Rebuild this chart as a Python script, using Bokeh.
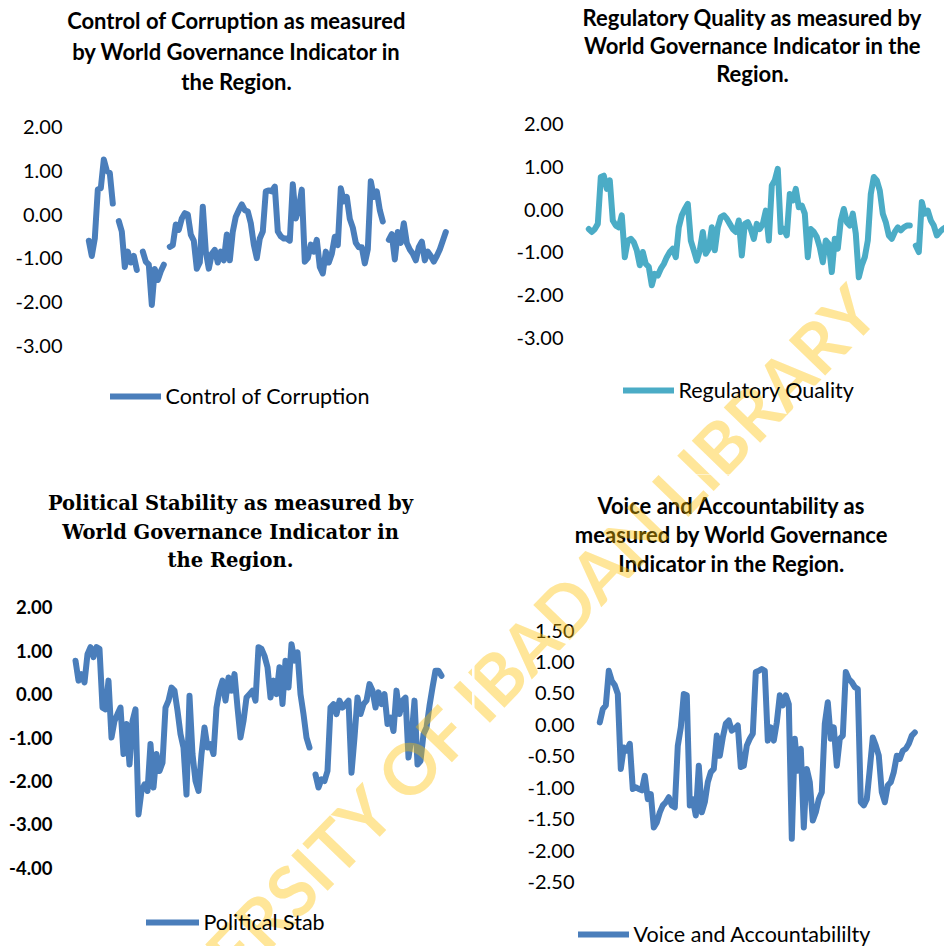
import numpy as np
from bokeh.plotting import figure
from bokeh.models import (Range1d, FixedTicker, NumeralTickFormatter, Label,
                          Legend, LegendItem, ColumnDataSource)
from bokeh.layouts import column, row
from bokeh.embed import file_html
from bokeh.resources import INLINE

nan = float("nan")

# ---------------- data ----------------
control_of_corruption = [
    -0.60, -0.95, -0.55, 0.57, 0.60, 1.26, 1.00, 0.95, 0.25, nan,
    -0.15, -0.39, -1.20, -0.85, -1.10, -0.95, -1.27, nan, -0.85, -1.08,
    -1.15, -2.07, -1.25, -1.50, -1.30, -1.15, nan, -0.74, -0.70, -0.23,
    -0.35, -0.09, 0.03, 0.00, -0.46, -0.60, -1.24, -1.10, 0.18, -0.85,
    -1.24, -0.90, -0.81, -1.10, -0.85, -1.05, -0.46, -1.05, -0.39, -0.05,
    0.10, 0.23, 0.10, 0.07, -0.20, -0.69, -1.00, -0.55, -0.39, 0.53,
    0.55,
    0.53, 0.64, -0.39, -0.50, -0.55, -0.55, -0.60, 0.69, -0.09, 0.14,
    0.57, -1.08, -1.00, -0.69, -0.85, -0.58, -1.20, -1.35, -0.85, -1.10,
    -0.90, -0.51, -0.70, 0.60, 0.30, 0.40, -0.10, -0.30, -0.65, -0.75,
    -0.75, -1.12, -0.80, 0.76, 0.40, 0.53, 0.10, -0.16, nan, -0.58,
    -0.45, -1.03, -0.40, -0.65, -0.20, -0.65, -0.80, -0.90, -1.05, -0.75,
    -0.62, -1.05, -0.85, -0.95, -1.08, -0.95, -0.80, -0.60, -0.40,
]

regulatory_quality = [
    -0.45, -0.52, -0.45, -0.33, 0.77, 0.80, 0.49, 0.69, -0.25, -0.37,
    -0.41, -0.13, -1.11, -0.72, -0.68, -0.76, -0.95, -1.30, -0.99, -1.27,
    -1.34, -1.77, -1.50, -1.54, -1.38, -1.27, -1.11, -0.99, -0.91, -1.11,
    -0.41, -0.13, 0.02, 0.14, -0.72, -0.95, -1.19, -0.95, -0.52, -1.03,
    -0.91, -0.41, -0.95, -0.41, -0.17, -0.13, -0.21, -0.33, -0.45, -0.52,
    -0.25, -1.07, -0.33, -0.29, -0.45, -0.68, -0.33, -0.45, -0.33, -0.02,
    -0.72, 0.57, 0.69, 0.96, -0.52, -0.45, -0.60, 0.37, 0.22, 0.49,
    0.06, 0.10, -0.09, -1.11, -0.45, -0.52, -0.64, -0.88, -1.23, -0.72,
    -0.80, -1.46, -0.68, -0.91, -0.25, 0.02, -0.29, -0.37, -0.09, -0.56,
    -1.58, -1.30, -1.11, -0.72, 0.37, 0.77, 0.69, 0.45, -0.09, -0.29,
    -0.60, -0.68, -0.52, -0.41, -0.48, -0.41, -0.37, -0.37, nan, -0.84,
    -0.99, 0.18, -0.09, -0.02, -0.25, -0.37, -0.60, -0.52, -0.45, -0.41,
]

political_stability = [
    0.77, 0.31, 0.46, 0.27, 0.92, 1.08, 0.85, 1.08, 1.04, -0.31,
    -0.35, 0.31, -1.00, -0.62, -0.46, -0.31, -1.38, -0.69, -1.62, -0.62,
    -0.35, -2.77, -2.23, -2.08, -2.23, -1.15, -2.15, -1.38, -1.77, -1.58,
    -0.31, -0.15, 0.15, 0.08, -0.38, -0.92, -1.23, -2.31, -0.04, -1.38,
    -2.00, -2.23, -1.38, -0.77, -1.23, -1.15, -1.38, -0.31, 0.08, 0.31,
    -0.15, 0.38, 0.08, 0.46, -0.31, -1.00, -0.62, -0.08, 0.00, 0.08,
    -0.15, 1.08, 1.04, 0.88, 0.62, -0.08, 0.31, 0.00, 0.62, -0.23,
    0.77, 0.15, 1.15, 0.77, 0.96, 0.00, -0.46, -1.00, -1.23, nan,
    -1.85, -2.15, -1.96, -2.00, -1.77, -0.31, -0.23, -0.46, -0.15, -0.31,
    -0.23, -0.15, -1.81, -1.00, -0.08, -0.46, -0.23, -0.15, 0.23, 0.08,
    -0.31, 0.04, -0.23, 0.00, -0.69, -0.54, -0.85, 0.08, -0.46, -0.15,
    -0.08, -1.46, -1.00, -0.15, -1.62, -1.54, -0.92, -0.77, -0.27, 0.15,
    0.54, 0.54, 0.42,
]

voice_and_accountability = [
    0.04, 0.25, 0.31, 0.86, 0.70, 0.63, 0.49, -0.70, -0.36, -0.41,
    -0.30, -1.02, -0.99, -1.02, -1.04, -0.81, -1.18, -1.10, -1.63, -1.55,
    -1.39, -1.28, -1.23, -1.15, -1.28, -1.31, -0.33, -0.04, 0.49, 0.47,
    -1.28, -1.18, -1.44, -0.65, -1.39, -1.23, -0.91, -0.75, -0.70, -0.17,
    -0.49, -0.20, 0.02, 0.07, -0.09, -0.06, -0.01, -0.67, -0.65, -0.33,
    -0.22, -0.14, 0.84, 0.86, 0.89, 0.86, -0.25, -0.04, -0.25, 0.04,
    0.47, 0.31, 0.47, 0.33, -1.81, -0.22, -0.73, -0.38, -1.63, -0.70,
    -0.91, -1.52, -1.39, -1.18, -1.07, 0.02, 0.36, -0.22, -0.04, -0.65,
    -0.22, -0.17, 0.84, 0.73, 0.68, 0.60, 0.57, -1.23, -1.28, -1.18,
    -0.70, -0.20, -0.33, -0.49, -1.07, -1.23, -0.96, -0.91, -0.75, -0.49,
    -0.54, -0.41, -0.38, -0.30, -0.17, -0.12,
]

ticks_cc = [2.0, 1.0, 0.0, -1.0, -2.0, -3.0]
ticks_rq = [2.0, 1.0, 0.0, -1.0, -2.0, -3.0]
ticks_ps = [2.0, 1.0, 0.0, -1.0, -2.0, -3.0, -4.0]
ticks_va = [1.5, 1.0, 0.5, 0.0, -0.5, -1.0, -1.5, -2.0, -2.5]

titles_cc = ["Control of Corruption as measured",
             "by World Governance Indicator in", "the Region."]
titles_rq = ["Regulatory Quality as measured by",
             "World Governance Indicator in the", "Region."]
titles_ps = ["Political Stability as measured by",
             "World Governance Indicator in", "the Region."]
titles_va = ["Voice and Accountability as",
             "measured by World Governance", "Indicator in the Region."]

WATERMARK = "UNIVERSITY OF IBADAN LIBRARY"

BLUE = "#4A7EBB"
AQUA = "#4BACC6"


def make_panel(series, name, color, ticks, canvas, label_right,
               line_x, zero_y, ppu, titles, title_y, title_x, title_font,
               title_size, tick_bold, legend_xy, glyph_w):
    cx0, cy0, cx1, cy1 = canvas
    frame_left = cx0 + 2          # frame spans (almost) the whole canvas
    n = len(series)
    step = (line_x[1] - line_x[0]) / (n - 1)
    xr = Range1d((frame_left - line_x[0]) / step, (cx1 - line_x[0]) / step)
    yr = Range1d((zero_y - cy1) / ppu, (zero_y - cy0) / ppu)
    p = figure(frame_width=cx1 - frame_left, frame_height=cy1 - cy0,
               x_range=xr, y_range=yr, x_axis_location=None, y_axis_location="left",
               output_backend="svg", toolbar_location=None,
               min_border_left=frame_left - cx0, min_border_right=0,
               min_border_top=0, min_border_bottom=0, outline_line_color=None,
               background_fill_color="white", border_fill_color="white")
    # pixel-space helper range for titles / watermark
    p.extra_x_ranges = {"px": Range1d(frame_left, cx1)}
    p.extra_y_ranges = {"px": Range1d(cy1, cy0)}
    p.grid.visible = False

    ax = p.yaxis[0]
    ax.ticker = FixedTicker(ticks=ticks)
    ax.formatter = NumeralTickFormatter(format="0.00")
    ax.axis_line_color = None
    ax.major_tick_line_color = None
    ax.minor_tick_line_color = None
    ax.major_tick_out = 0
    ax.major_tick_in = 0
    # labels drawn inside the frame so that the frame can fill the canvas
    ax.major_label_standoff = int(round(frame_left - label_right))
    ax.major_label_text_font = "Lato"
    ax.major_label_text_font_size = "18.5px" if tick_bold else "20px"
    ax.major_label_text_font_style = "bold" if tick_bold else "normal"
    ax.major_label_text_color = "black"

    src = ColumnDataSource(dict(x=np.arange(n), y=np.array(series, dtype=float)))
    r = p.line("x", "y", source=src, line_width=6, line_color=color,
               line_join="round", line_cap="round")

    for t, ty in zip(titles, title_y):
        p.add_layout(Label(x=title_x, y=ty, x_range_name="px", y_range_name="px",
                           text=t, text_align="center", text_baseline="middle",
                           text_font=title_font, text_font_style="bold",
                           text_font_size=title_size, text_color="black"))

    lx, ly = legend_xy
    legend = Legend(items=[LegendItem(label=name, renderers=[r])],
                    location=(lx - frame_left, (cy1 - ly) - 13),
                    orientation="horizontal", glyph_width=glyph_w, glyph_height=26,
                    label_height=26, label_standoff=5, padding=0, margin=0,
                    border_line_color=None, background_fill_alpha=0,
                    label_text_font="Lato", label_text_font_size="21.5px",
                    label_text_color="black")
    p.add_layout(legend)

    p.add_layout(Label(x=481, y=692, x_range_name="px", y_range_name="px",
                       text=WATERMARK, angle=46, angle_units="deg",
                       text_align="center", text_baseline="middle",
                       text_font="Lato", text_font_style="bold",
                       text_font_size="70px", text_color="#FFC000", text_alpha=0.4))
    return p


p1 = make_panel(control_of_corruption, "Control of Corruption", BLUE, ticks_cc,
                (0, 0, 472, 474), 62, (88.3, 445.3), 214.0, 43.67,
                titles_cc, [20, 51, 81], 236, "Lato", "22px", False,
                (109.5, 396), 51)
p2 = make_panel(regulatory_quality, "Regulatory Quality", AQUA, ticks_rq,
                (472, 0, 944, 474), 563, (588.3, 945.3), 209.3, 42.67,
                titles_rq, [17, 45, 73], 752, "Lato", "22px", False,
                (622.5, 390), 51)
p3 = make_panel(political_stability, "Political Stab", BLUE, ticks_ps,
                (0, 474, 472, 946), 52, (75.0, 441.0), 693.6, 43.44,
                titles_ps, [503, 532, 560], 230, "DejaVu Serif", "19.5px", True,
                (145.5, 922), 53)
p4 = make_panel(voice_and_accountability, "Voice and Accountabililty", BLUE, ticks_va,
                (472, 474, 944, 946), 574, (599.3, 914.3), 724.4, 62.9,
                titles_va, [505, 534, 563], 731, "Lato", "22px", False,
                (577.5, 934), 51)

layout = column(row(p1, p2), row(p3, p4))
open("out.html", "w").write(file_html(layout, INLINE))
